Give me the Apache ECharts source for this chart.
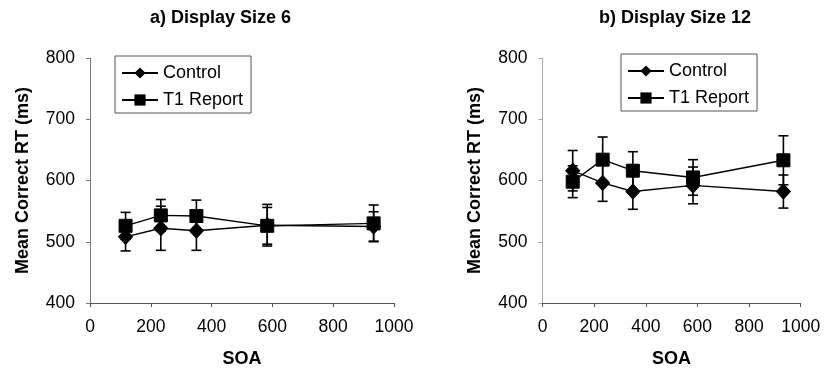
<!DOCTYPE html>
<html>
<head>
<meta charset="utf-8">
<script src="https://cdn.jsdelivr.net/npm/echarts@6/dist/echarts.min.js"></script>
<style>
html,body{margin:0;padding:0;background:#fff;}
#chart{width:824px;height:373px;}
</style>
</head>
<body>
<div id="chart"></div>
<script>
// SOA (ms)
var soa = [117, 233, 350, 583, 933];
// a) Display Size 6
var control6 = [508, 522, 518, 527, 525];
var control6Err = [23, 36, 32, 34, 24];
var t1Report6 = [526, 543, 542, 526, 530];
var t1Report6Err = [22, 26, 26, 30, 30];
// b) Display Size 12
var control12 = [616, 596, 582, 592, 582];
var control12Err = [33, 30, 29, 30, 27];
var t1Report12 = [598, 634, 616, 605, 633];
var t1Report12Err = [26, 37, 31, 29, 40];

var panelTitles = ['a) Display Size 6', 'b) Display Size 12'];
var seriesNames = ['Control', 'T1 Report'];
var yTicks = [400, 500, 600, 700, 800];
var xTicks = [0, 200, 400, 600, 800, 1000];

var FONT = 'Liberation Sans, Arial, sans-serif';

function pts(vals) { return soa.map(function (x, i) { return [x, vals[i]]; }); }
function errs(vals, e) { return soa.map(function (x, i) { return [x, vals[i] - e[i], vals[i] + e[i]]; }); }

function errRender(params, api) {
  var x = api.value(0), lo = api.value(1), hi = api.value(2);
  var pLo = api.coord([x, lo]), pHi = api.coord([x, hi]);
  var hw = 5;
  var st = { stroke: '#000', lineWidth: 1.6 };
  return {
    type: 'group',
    children: [
      { type: 'line', shape: { x1: pLo[0], y1: pLo[1], x2: pHi[0], y2: pHi[1] }, style: st },
      { type: 'line', shape: { x1: pLo[0] - hw, y1: pLo[1], x2: pLo[0] + hw, y2: pLo[1] }, style: st },
      { type: 'line', shape: { x1: pHi[0] - hw, y1: pHi[1], x2: pHi[0] + hw, y2: pHi[1] }, style: st }
    ]
  };
}

function xAx(gi, lineColor) {
  return {
    type: 'value', gridIndex: gi, min: xTicks[0], max: xTicks[xTicks.length - 1], interval: 200,
    name: 'SOA', nameLocation: 'middle', nameGap: 47,
    nameTextStyle: { fontFamily: FONT, fontSize: 18, fontWeight: 'bold', color: '#000' },
    axisLine: { show: true, onZero: false, lineStyle: { color: lineColor, width: 1 } },
    axisTick: { show: true, length: 4, lineStyle: { color: lineColor } },
    axisLabel: { margin: 15, fontFamily: FONT, fontSize: 17.5, color: '#000', formatter: function (v) { return String(v); } },
    splitLine: { show: false }
  };
}
function yAx(gi, lineColor) {
  return {
    type: 'value', gridIndex: gi, min: yTicks[0], max: yTicks[yTicks.length - 1], interval: 100,
    name: 'Mean Correct RT (ms)', nameLocation: 'middle', nameGap: 58,
    nameTextStyle: { fontFamily: FONT, fontSize: 18, fontWeight: 'bold', color: '#000' },
    axisLine: { show: true, onZero: false, lineStyle: { color: lineColor, width: 1 } },
    axisTick: { show: true, length: 4, lineStyle: { color: lineColor } },
    axisLabel: { margin: 15, fontFamily: FONT, fontSize: 17.5, color: '#000', formatter: function (v) { return String(v); } },
    splitLine: { show: false }
  };
}

function lineSeries(name, gi, data, symbol, size) {
  return {
    name: name, type: 'line', xAxisIndex: gi, yAxisIndex: gi, data: data,
    symbol: symbol, symbolSize: size, showSymbol: true,
    lineStyle: { color: '#000', width: 1.4 },
    itemStyle: { color: '#000', borderColor: '#000' },
    z: 5, animation: false
  };
}
function errSeries(name, gi, data) {
  return {
    name: name, type: 'custom', xAxisIndex: gi, yAxisIndex: gi, data: data,
    renderItem: errRender, encode: { x: 0, y: [1, 2] }, z: 4, animation: false, silent: true,
    itemStyle: { color: '#000' }
  };
}

function legendAt(left, top) {
  return {
    data: seriesNames, orient: 'vertical', left: left, top: top,
    itemWidth: 36, itemHeight: 14, itemGap: 7,
    padding: [7, 8, 3, 6],
    borderColor: '#555', borderWidth: 1,
    textStyle: { fontFamily: FONT, fontSize: 18, color: '#000', lineHeight: 20 },
    selectedMode: false
  };
}

var option = {
  backgroundColor: '#fff',
  animation: false,
  color: ['#000'],
  title: [
    { text: panelTitles[0], left: 145, top: 4, textStyle: { fontFamily: FONT, fontSize: 18, fontWeight: 'bold', color: '#000' } },
    { text: panelTitles[1], left: 594, top: 4, textStyle: { fontFamily: FONT, fontSize: 18, fontWeight: 'bold', color: '#000' } }
  ],
  legend: [legendAt(115, 56), legendAt(621, 54)],
  grid: [
    { left: 90, right: 430, top: 58, bottom: 70 },
    { left: 542.5, right: 23.3, top: 58, bottom: 70 }
  ],
  xAxis: [xAx(0, '#555'), xAx(1, '#555')],
  yAxis: [yAx(0, '#777'), yAx(1, '#aaa')],
  series: [
    lineSeries('Control', 0, pts(control6), 'diamond', [14, 15]),
    lineSeries('T1 Report', 0, pts(t1Report6), 'rect', 13),
    lineSeries('Control', 1, pts(control12), 'diamond', [14, 15]),
    lineSeries('T1 Report', 1, pts(t1Report12), 'rect', 13),
    errSeries('Control', 0, errs(control6, control6Err)),
    errSeries('T1 Report', 0, errs(t1Report6, t1Report6Err)),
    errSeries('Control', 1, errs(control12, control12Err)),
    errSeries('T1 Report', 1, errs(t1Report12, t1Report12Err))
  ]
};

var chart = echarts.init(document.getElementById('chart'), null, { renderer: 'canvas' });
chart.setOption(option);
</script>
</body>
</html>
